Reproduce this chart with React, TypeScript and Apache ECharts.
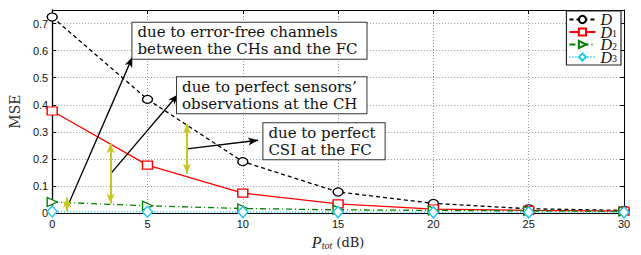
import React, { useEffect, useRef } from "react";
import * as echarts from "echarts";

const ptot = [0, 5, 10, 15, 20, 25, 30];
const seriesNames = ["D", "D1", "D2", "D3"];
const dValues = [0.724, 0.42, 0.19, 0.078, 0.036, 0.016, 0.01];
const d1Values = [0.377, 0.177, 0.074, 0.034, 0.015, 0.01, 0.007];
const d2Values = [0.041, 0.027, 0.017, 0.012, 0.01, 0.008, 0.006];
const d3Values = [0.006, 0.005, 0.004, 0.004, 0.003, 0.003, 0.003];
const yTicks = { min: 0, max: 0.75, interval: 0.1 };
const xTicks = { min: 0, max: 30, interval: 5 };

// annotation arrows in data coordinates: [x0, y0, x1, y1]
const blackArrows = [
  [0.78, 0.021, 4.21, 0.576],
  [3.06, 0.145, 6.6, 0.438],
  [7.07, 0.237, 10.8, 0.269],
];
const yellowArrows = [
  [0.78, 0.058, 0.78, 0.008],
  [3.06, 0.258, 3.06, 0.035],
  [7.07, 0.329, 7.07, 0.145],
];
const boxTexts = [
  "due to error-free channels\nbetween the CHs and the FC",
  "due to perfect sensors’\nobservations at the CH",
  "due to perfect\nCSI at the FC",
];
const boxAnchors = [
  [4.21, 0.703],
  [6.55, 0.502],
  [11.08, 0.332],
];

const serif = "DejaVu Serif";
const sans = '"Liberation Sans", Arial, sans-serif';

export default function App() {
  const ref = useRef<HTMLDivElement>(null);
  useEffect(() => {
    if (!ref.current) return;
    document.body.style.margin = "0";
    const chart = echarts.init(ref.current, undefined, { renderer: "svg" });
    const mk = (d: number[]) => d.map((v, i) => [ptot[i], v]);
    const markLineData: any[] = [];
    blackArrows.forEach((a) => {
      markLineData.push([
        { coord: [a[0], a[1]], symbol: "none", lineStyle: { color: "#000", width: 1.3, type: "solid" } },
        { coord: [a[2], a[3]], symbol: "arrow", symbolSize: [6, 10] },
      ]);
    });
    yellowArrows.forEach((a) => {
      markLineData.push([
        { coord: [a[0], a[1]], symbol: "arrow", symbolSize: [6, 10], lineStyle: { color: "#c8c81e", width: 2, type: "solid" } },
        { coord: [a[2], a[3]], symbol: "arrow", symbolSize: [6, 10] },
      ]);
    });
    const markPointData = boxTexts.map((t, i) => ({
      coord: boxAnchors[i],
      symbol: "rect",
      symbolSize: 0,
      itemStyle: { color: "transparent" },
      label: {
        show: true,
        formatter: t,
        position: [0, 0],
        align: "left",
        verticalAlign: "top",
        fontFamily: serif,
        fontStyle: "normal",
        fontWeight: "normal",
        fontSize: 15,
        color: "#111",
        lineHeight: 17,
        backgroundColor: "#fff",
        borderColor: "#333",
        borderWidth: 1,
        padding: [1, 9, 1, 5],
      },
    }));
    const common = {
      type: "line",
      symbolKeepAspect: true,
      showSymbol: true,
      emphasis: { disabled: true },
      z: 3,
    };
    const option: any = {
      animation: false,
      grid: { left: 47, right: 17, top: 10, bottom: 34 },
      legend: {
        orient: "vertical",
        right: 20,
        top: 11,
        padding: [0, 4, 0, 2],
        itemGap: -4,
        itemWidth: 26,
        itemHeight: 9,
        borderColor: "#222",
        borderWidth: 1.2,
        backgroundColor: "#fff",
        data: seriesNames,
        formatter: (n: string) => (n.length > 1 ? `{i|D}{s|${n.slice(1)}}` : "{i|D}{s| }"),
        textStyle: {
          rich: {
            i: { fontFamily: '"Liberation Serif", serif', fontStyle: "italic", fontSize: 16, color: "#111", lineHeight: 13 },
            s: { fontFamily: '"Liberation Serif", serif', fontSize: 10, color: "#111", verticalAlign: "bottom", padding: [5, 0, 0, 0], lineHeight: 13 },
          },
        },
      },
      xAxis: [
        {
          type: "value",
          min: xTicks.min,
          max: xTicks.max,
          interval: xTicks.interval,
          axisLine: { lineStyle: { color: "#000", width: 1 } },
          axisTick: { inside: true, length: 4, lineStyle: { color: "#000" } },
          axisLabel: { color: "#111", fontFamily: sans, fontSize: 11, margin: 5 },
          splitLine: { show: true, lineStyle: { color: "#999", type: [1, 2], width: 1 } },
          name: "{i|P}{s|tot} (dB)",
          nameLocation: "middle",
          nameGap: 15,
          nameTextStyle: {
            fontFamily: serif,
            fontSize: 13,
            color: "#222",
            rich: {
              i: { fontFamily: '"Liberation Serif", serif', fontStyle: "italic", fontSize: 16, color: "#222" },
              s: { fontFamily: '"Liberation Serif", serif', fontStyle: "italic", fontSize: 10, color: "#222", verticalAlign: "bottom", padding: [6, 0, 0, 0] },
            },
          },
        },
        {
          type: "value",
          position: "top",
          min: xTicks.min,
          max: xTicks.max,
          interval: xTicks.interval,
          axisLine: { show: true, onZero: false, lineStyle: { color: "#000", width: 1 } },
          axisTick: { show: true, inside: true, length: 4, lineStyle: { color: "#000" } },
          axisLabel: { show: false },
          splitLine: { show: false },
        },
      ],
      yAxis: [
        {
          type: "value",
          min: yTicks.min,
          max: yTicks.max,
          interval: yTicks.interval,
          axisLine: { show: true, lineStyle: { color: "#000", width: 1.3 } },
          axisTick: { show: true, inside: true, length: 4, lineStyle: { color: "#000" } },
          axisLabel: { color: "#111", fontFamily: sans, fontSize: 11, margin: 4, showMaxLabel: false },
          splitLine: { show: true, lineStyle: { color: "#999", type: [1, 2], width: 1 } },
          name: "MSE",
          nameLocation: "middle",
          nameGap: 24,
          nameTextStyle: { fontFamily: serif, fontSize: 14, color: "#333" },
        },
        {
          type: "value",
          position: "right",
          min: yTicks.min,
          max: yTicks.max,
          interval: yTicks.interval,
          axisLine: { show: true, onZero: false, lineStyle: { color: "#000", width: 1 } },
          axisTick: { show: true, inside: true, length: 4, lineStyle: { color: "#000" } },
          axisLabel: { show: false },
          splitLine: { show: false },
        },
      ],
      series: [
        {
          ...common,
          name: "D",
          data: mk(dValues),
          symbol: "circle",
          symbolSize: [10, 8],
          itemStyle: { color: "#fff", borderColor: "#000", borderWidth: 1.3 },
          lineStyle: { color: "#000", width: 1.3, type: [4, 3] },
          markLine: {
            silent: true,
            label: { show: false },
            emphasis: { disabled: true },
            data: markLineData,
          },
        },
        {
          ...common,
          name: "D1",
          data: mk(d1Values),
          symbol: "rect",
          symbolSize: [10, 8],
          itemStyle: { color: "#fff", borderColor: "#f00", borderWidth: 1.3 },
          lineStyle: { color: "#f00", width: 1.3, type: "solid" },
          markPoint: {
            silent: true,
            z: 20,
            emphasis: { disabled: true },
            data: markPointData,
          },
        },
        {
          ...common,
          name: "D2",
          data: mk(d2Values),
          symbol: "triangle",
          symbolRotate: -90,
          symbolSize: [9, 10],
          itemStyle: { color: "#fff", borderColor: "#008000", borderWidth: 1.3 },
          lineStyle: { color: "#008000", width: 1.3, type: [6, 3, 1, 3] },
        },
        {
          ...common,
          name: "D3",
          data: mk(d3Values),
          symbol: "diamond",
          symbolSize: [10, 11],
          itemStyle: { color: "#fff", borderColor: "#1ec8f0", borderWidth: 1.5 },
          lineStyle: { color: "#1ec8f0", width: 1.3, type: [1, 2] },
        },
      ],
    };
    chart.setOption(option);
    return () => chart.dispose();
  }, []);
  return <div ref={ref} style={{ width: 641, height: 255 }} />;
}
